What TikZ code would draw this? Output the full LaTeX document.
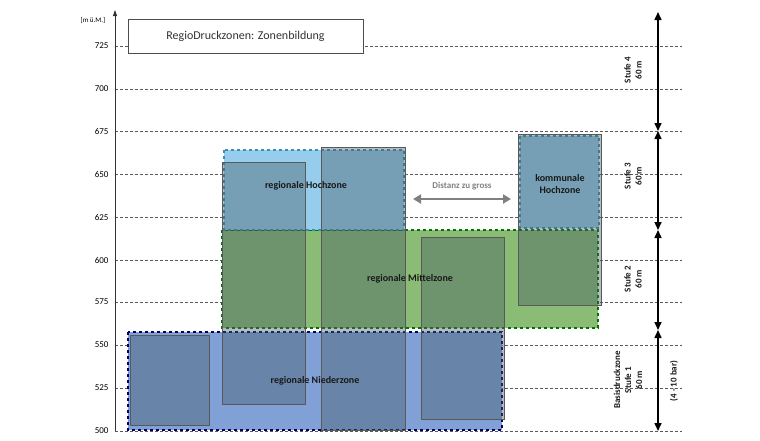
\documentclass[tikz,border=0pt]{standalone}
\usepackage{fontspec}
\setmainfont{Carlito}
\usetikzlibrary{arrows.meta}
\definecolor{nieder}{RGB}{128,160,214}
\definecolor{mittel}{RGB}{138,188,118}
\definecolor{hoch}{RGB}{150,205,236}
\definecolor{shade}{RGB}{70,90,100}
\tikzset{
  grid/.style = {gray!70!black, densely dashed, thin},
  zone/.style = {dashed, line width = 1.2pt},
  block/.style = {draw = black!65, line width = 1pt, fill = shade, fill opacity = 0.4},
  lbl/.style = {font = \bfseries, text = black!90},
  stufenpfeil/.style = {line width = 1.5pt, {Triangle[length=8pt,width=7pt]}-{Triangle[length=8pt,width=7pt]}},
}
\begin{document}
\begin{tikzpicture}[x = 1pt, y = -1pt]
\useasboundingbox (0, 0) rectangle (760, 440);
% Hoehenraster
\foreach \h/\yy in {725/46, 700/89, 675/131.5, 650/174, 625/217, 600/260, 575/302, 550/345, 525/388, 500/431} {
  \draw[grid] (115, \yy) -- (682, \yy);
  \node[left, font = \small] at (112, \yy) {\h};
}
\node[font = \scriptsize] at (93, 20) {[m ü.M.]};
\draw[-{Triangle[length=6pt,width=4pt]}, thick, black!80] (115, 431) -- (115, 10);
\node[draw = black!70, thick, minimum width = 235pt, minimum height = 34pt, fill = white,
      font = \large, text = black!80] (title) at (245.5, 36) {RegioDruckzonen: Zonenbildung};
% Zonen
\draw[zone, draw = blue!40!black, fill = nieder] (128, 332) rectangle (502, 430);
\draw[zone, draw = green!45!black, fill = mittel] (222, 230) rectangle (598, 328);
\draw[zone, draw = cyan!70!black, fill = hoch] (224, 150) rectangle (404, 230);
\draw[zone, draw = cyan!70!black, fill = hoch] (520, 136) rectangle (599, 228);
% Versorgungsgebiete
\draw[block] (130, 335) rectangle (209, 425);
\draw[block] (222, 162) rectangle (305, 404);
\draw[block] (321, 147) rectangle (405, 430);
\draw[block] (421, 237) rectangle (504, 419);
\draw[block] (518, 134) rectangle (601, 305);
\node[lbl] (hochzone) at (306, 186) {regionale Hochzone};
\node[lbl] (mittelzone) at (410, 279) {regionale Mittelzone};
\node[lbl] (niederzone) at (315, 381) {regionale Niederzone};
\node[lbl, align = center] (kommunal) at (560, 184) {kommunale\\Hochzone};
\node[font = \small\bfseries, text = gray] (distanz) at (462, 186) {Distanz zu gross};
\coordinate (dl) at (413, 199);
\coordinate (dr) at (511, 199);
\draw[gray, line width = 2pt, {Triangle[length=8pt,width=9pt]}-{Triangle[length=8pt,width=9pt]}] (dl) -- (dr);
% Stufen
\coordinate (s0) at (658, 12);
\coordinate (s1) at (658, 131);
\coordinate (s2) at (658, 230);
\coordinate (s3) at (658, 330);
\coordinate (s4) at (658, 431);
\draw[stufenpfeil] (s0) -- (s1);
\draw[stufenpfeil] (s1) -- (s2);
\draw[stufenpfeil] (s2) -- (s3);
\draw[stufenpfeil] (s3) -- (s4);
\node[lbl, rotate = 90, align = center, font = \small\bfseries] (stufe4) at (633, 70) {Stufe 4\\60 m};
\node[lbl, rotate = 90, align = center, font = \small\bfseries] (stufe3) at (633, 176) {Stufe 3\\60 m};
\node[lbl, rotate = 90, align = center, font = \small\bfseries] (stufe2) at (633, 279) {Stufe 2\\60 m};
\node[lbl, rotate = 90, align = center, font = \small\bfseries] (stufe1) at (628, 380) {Basisdruckzone\\Stufe 1\\60 m};
\node[lbl, rotate = 90, font = \small\bfseries] (bar) at (674, 381) {(4 - 10 bar)};
\end{tikzpicture}
\end{document}
